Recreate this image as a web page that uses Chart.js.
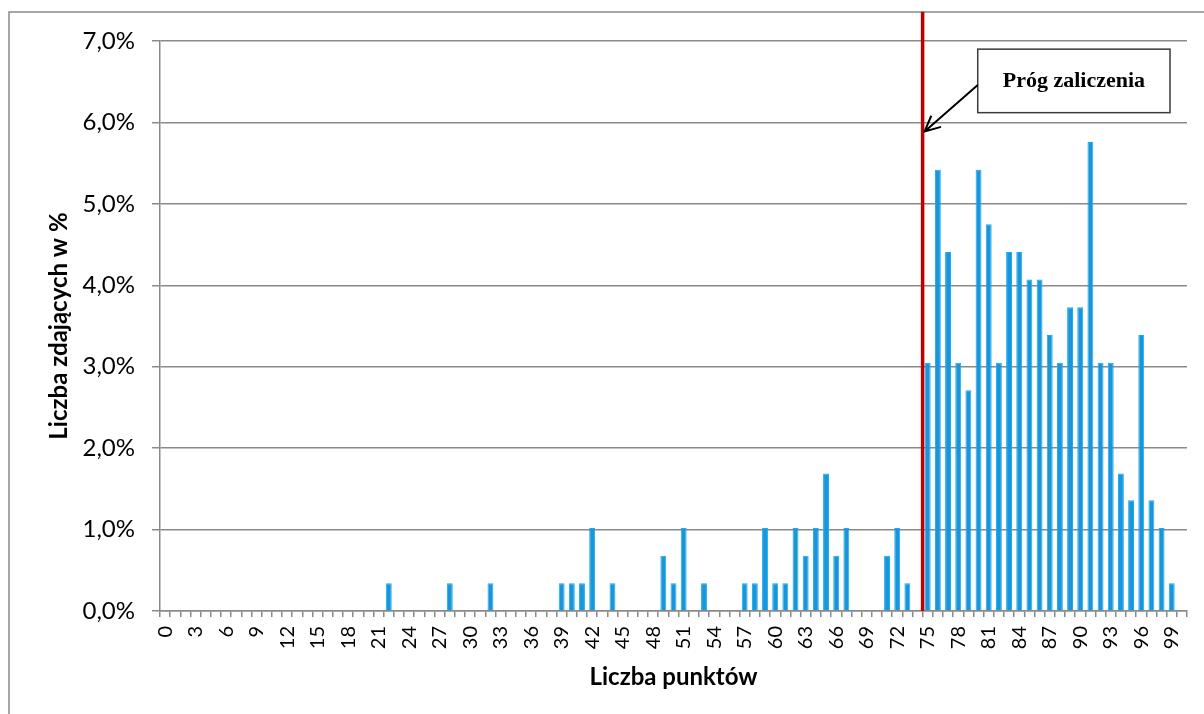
<!DOCTYPE html>
<html lang="pl">
<head>
<meta charset="utf-8">
<title>Rozkład wyników</title>
<script src="https://cdn.jsdelivr.net/npm/chart.js@4.4.1/dist/chart.umd.min.js"></script>
<style>
    html, body { margin: 0; padding: 0; background: #fff; }
    #wrap { width: 1204px; height: 714px; position: relative; }
</style>
</head>
<body>
<div id="wrap"><canvas id="chart"></canvas></div>
<script>
const points = [
    0, 1, 2, 3, 4, 5, 6, 7, 8, 9, 10, 11, 12, 13, 14, 15, 16, 17, 18, 19,
    20, 21, 22, 23, 24, 25, 26, 27, 28, 29, 30, 31, 32, 33, 34, 35, 36, 37, 38, 39,
    40, 41, 42, 43, 44, 45, 46, 47, 48, 49, 50, 51, 52, 53, 54, 55, 56, 57, 58, 59,
    60, 61, 62, 63, 64, 65, 66, 67, 68, 69, 70, 71, 72, 73, 74, 75, 76, 77, 78, 79,
    80, 81, 82, 83, 84, 85, 86, 87, 88, 89, 90, 91, 92, 93, 94, 95, 96, 97, 98, 99, 100
];

// % of students per score
const shares = [
    0, 0, 0, 0, 0, 0, 0, 0, 0, 0,
    0, 0, 0, 0, 0, 0, 0, 0, 0, 0,
    0, 0, 0.34, 0, 0, 0, 0, 0, 0.34, 0,
    0, 0, 0.34, 0, 0, 0, 0, 0, 0, 0.34,
    0.34, 0.34, 1.02, 0, 0.34, 0, 0, 0, 0, 0.68,
    0.34, 1.02, 0, 0.34, 0, 0, 0, 0.34, 0.34, 1.02,
    0.34, 0.34, 1.02, 0.68, 1.02, 1.69, 0.68, 1.02, 0, 0,
    0, 0.68, 1.02, 0.34, 0, 3.05, 5.42, 4.41, 3.05, 2.71,
    5.42, 4.75, 3.05, 4.41, 4.41, 4.07, 4.07, 3.39, 3.05, 3.73,
    3.73, 5.76, 3.05, 3.05, 1.69, 1.36, 3.39, 1.36, 1.02, 0.34,
    0
];

const yTicks = [0, 1, 2, 3, 4, 5, 6, 7];
const passMark = 75;
const noteText = 'Próg zaliczenia';

const GRID = '#8a8a8a';

const pctLabel = v => v.toFixed(1).replace('.', ',') + '%';

const framePlugin = {
    id: 'frame',
    beforeDraw(chart) {
        const {ctx} = chart;
        ctx.save();
        ctx.strokeStyle = GRID;
        ctx.lineWidth = 1.5;
        ctx.beginPath();
        ctx.moveTo(9, chart.height);
        ctx.lineTo(9, 12);
        ctx.lineTo(chart.width, 12);
        ctx.stroke();
        ctx.restore();
    }
};

const passMarkPlugin = {
    id: 'passMark',
    afterDatasetsDraw(chart) {
        const {ctx, scales: {x, y}} = chart;
        const half = (x.getPixelForValue(passMark) - x.getPixelForValue(passMark - 1)) / 2;
        const lineX = x.getPixelForValue(passMark) - half;

        ctx.save();
        ctx.strokeStyle = '#c00000';
        ctx.lineWidth = 3.5;
        ctx.beginPath();
        ctx.moveTo(lineX, y.getPixelForValue(7.36));
        ctx.lineTo(lineX, y.getPixelForValue(0));
        ctx.stroke();

        // note box
        const bx1 = x.getPixelForValue(79.92), bx2 = x.getPixelForValue(98.83);
        const by1 = y.getPixelForValue(6.9), by2 = y.getPixelForValue(6.12);
        ctx.fillStyle = '#fff';
        ctx.fillRect(bx1, by1, bx2 - bx1, by2 - by1);
        ctx.strokeStyle = '#3a3a3a';
        ctx.lineWidth = 1.5;
        ctx.strokeRect(bx1, by1, bx2 - bx1, by2 - by1);
        ctx.fillStyle = '#000';
        ctx.font = 'bold 22px "Liberation Serif", "Times New Roman", serif';
        ctx.textAlign = 'center';
        ctx.textBaseline = 'middle';
        ctx.fillText(noteText, (bx1 + bx2) / 2, (by1 + by2) / 2);

        // arrow
        const sx = bx1, sy = y.getPixelForValue(6.46);
        const tx = lineX + 2, ty = y.getPixelForValue(5.89);
        const ang = Math.atan2(ty - sy, tx - sx);
        ctx.strokeStyle = '#000';
        ctx.lineWidth = 2;
        ctx.beginPath();
        ctx.moveTo(sx, sy);
        ctx.lineTo(tx, ty);
        ctx.moveTo(tx - 17 * Math.cos(ang - 0.45), ty - 17 * Math.sin(ang - 0.45));
        ctx.lineTo(tx, ty);
        ctx.lineTo(tx - 17 * Math.cos(ang + 0.45), ty - 17 * Math.sin(ang + 0.45));
        ctx.stroke();
        ctx.restore();
    }
};

function draw() {
    new Chart(document.getElementById('chart'), {
        type: 'bar',
        data: {
            labels: points,
            datasets: [{
                label: 'Liczba zdających w %',
                data: shares,
                backgroundColor: '#1b94db',
                borderColor: '#12b0f0',
                borderWidth: ctx => (ctx.raw > 0 ? 1 : 0),
                borderSkipped: 'bottom',
                barPercentage: 0.58,
                categoryPercentage: 1
            }]
        },
        options: {
            responsive: true,
            maintainAspectRatio: false,
            animation: false,
            layout: {padding: {left: 0, top: 41, right: 17, bottom: 0}},
            plugins: {legend: {display: false}, tooltip: {enabled: false}},
            scales: {
                x: {
                    afterFit: s => {
                        s.height = 103;
                        s.paddingLeft = 0;
                        s.paddingRight = 0;
                    },
                    grid: {display: true, drawOnChartArea: false, drawTicks: true, tickLength: 6, color: GRID, lineWidth: 1.5, offset: true},
                    border: {display: true, color: GRID, width: 1.5},
                    ticks: {
                        autoSkip: false,
                        minRotation: 90,
                        maxRotation: 90,
                        padding: 9,
                        color: '#000',
                        font: {family: 'Lato', size: 20},
                        callback: (v, i) => (points[i] % 3 === 0 && points[i] < 100 ? String(points[i]) : '')
                    },
                    title: {
                        display: true,
                        text: 'Liczba punktów',
                        color: '#000',
                        font: {family: 'Lato', size: 24, weight: 'bold'},
                        padding: {top: 0, bottom: 22}
                    }
                },
                y: {
                    min: 0,
                    max: 7,
                    afterFit: s => {
                        s.width = 160;
                        s.paddingTop = 0;
                        s.paddingBottom = 0;
                    },
                    afterBuildTicks: s => { s.ticks = yTicks.map(v => ({value: v})); },
                    grid: {color: GRID, lineWidth: 1.5, tickLength: 8, drawTicks: true},
                    border: {display: true, color: GRID, width: 1.5},
                    ticks: {
                        padding: 17,
                        color: '#000',
                        font: {family: 'Lato', size: 24},
                        callback: v => pctLabel(v)
                    },
                    title: {
                        display: true,
                        text: 'Liczba zdających w %',
                        color: '#000',
                        font: {family: 'Lato', size: 24, weight: 'bold'},
                        padding: {top: 45, bottom: 0}
                    }
                }
            }
        },
        plugins: [framePlugin, passMarkPlugin]
    });
}

Promise.all([
    document.fonts.load('24px Lato'),
    document.fonts.load('bold 24px Lato'),
    document.fonts.load('bold 22px "Liberation Serif"')
]).then(draw, draw);
</script>
</body>
</html>
